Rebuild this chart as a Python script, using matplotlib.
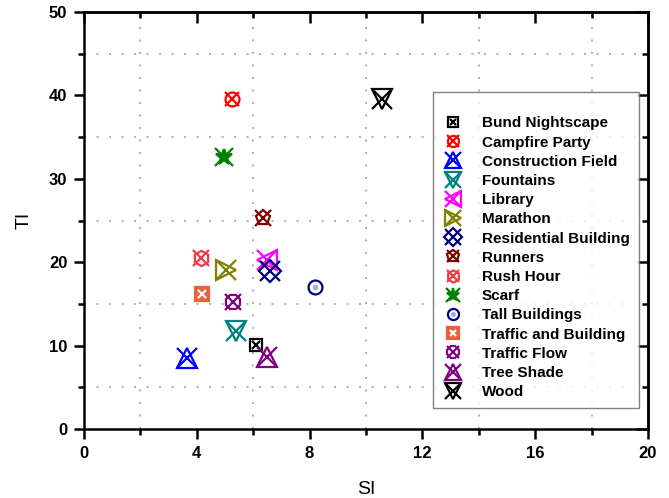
import matplotlib
matplotlib.use("Agg")
import matplotlib.pyplot as plt
from matplotlib.lines import Line2D
from matplotlib.ticker import MultipleLocator

names = ["Bund Nightscape", "Campfire Party", "Construction Field", "Fountains",
         "Library", "Marathon", "Residential Building", "Runners", "Rush Hour",
         "Scarf", "Tall Buildings", "Traffic and Building", "Traffic Flow",
         "Tree Shade", "Wood"]
si = [6.1, 5.25, 3.65, 5.4, 6.5, 5.05, 6.6, 6.35, 4.15, 4.95, 8.2, 4.2, 5.3, 6.5, 10.55]
ti = [10.1, 39.6, 8.5, 11.8, 20.3, 19.1, 18.9, 25.3, 20.5, 32.6, 17.0, 16.2, 15.2, 8.6, 39.6]
colors = ["#000000", "#FF0000", "#0000FF", "#008080", "#FF00FF", "#808000",
          "#000080", "#800000", "#F03C46", "#008000", "#000080", "#E8603C",
          "#800080", "#800080", "#000000"]

# marker layers per series: (marker, size, fill kind)
styles = [
    [("s", 9, "open"), ("x", 6, "open")],
    [("o", 10, "open"), ("x", 10, "open")],
    [("^", 15, "open"), ("x", 15, "open")],
    [("v", 15, "open"), ("x", 15, "open")],
    [("<", 15, "open"), ("x", 15, "open")],
    [(">", 15, "open"), ("x", 15, "open")],
    [("D", 11, "open"), ("x", 14, "open")],
    [("p", 11, "open"), ("x", 11, "open")],
    [("h", 11, "open"), ("x", 11, "open")],
    [("*", 12, "fill"), ("x", 13, "open")],
    [("o", 10, "tall"), (".", 5, "dot")],
    [("s", 10, "fill"), ("x", 6, "white")],
    [("8", 11, "open"), ("x", 11, "open")],
    [("^", 15, "open"), ("x", 15, "open")],
    [("v", 15, "open"), ("x", 15, "open")],
]

plt.rcParams['font.family'] = ['Liberation Sans', 'DejaVu Sans']
fig = plt.figure(figsize=(6.69, 4.98), dpi=100)
ax = fig.add_axes([84/669, 1-429/498, (648-84)/669, (429-12)/498])

handles = []
for n, x, y, c, st in zip(names, si, ti, colors, styles):
    layer = []
    for m, ms, f in st:
        if f == "fill":
            kw = dict(markerfacecolor=c, markeredgecolor=c)
        elif f == "tall":
            kw = dict(markerfacecolor="white", markeredgecolor=c)
        elif f == "dot":
            kw = dict(markerfacecolor="#9fb0d8", markeredgecolor="#9fb0d8")
        elif f == "white":
            kw = dict(markerfacecolor="white", markeredgecolor="white")
        else:
            kw = dict(markerfacecolor="none", markeredgecolor=c)
        ax.plot([x], [y], linestyle="none", marker=m, markersize=ms,
                markeredgewidth=1.6, **kw)
        layer.append(Line2D([], [], linestyle="none", marker=m,
                            markersize=ms * 0.8, markeredgewidth=1.6, **kw))
    handles.append(tuple(layer))

ax.set_xlim(0, 20)
ax.set_ylim(0, 50)
ax.xaxis.set_major_locator(MultipleLocator(4))
ax.xaxis.set_minor_locator(MultipleLocator(2))
ax.yaxis.set_major_locator(MultipleLocator(10))
ax.yaxis.set_minor_locator(MultipleLocator(5))

for xv in [2, 6, 10, 14, 18]:
    ax.axvline(xv, color="#b4b4b4", linestyle=(0, (1, 5)), linewidth=1.5, zorder=0)
for yv in [5, 15, 25, 35, 45]:
    ax.axhline(yv, color="#b4b4b4", linestyle=(0, (1, 5)), linewidth=1.5, zorder=0)

for s in ax.spines.values():
    s.set_linewidth(1.8)

ax.tick_params(which="both", direction="out", width=1.8, top=False, right=False,
               labelsize=12, pad=5)
ax.tick_params(which="major", length=7)
ax.tick_params(which="minor", length=4)
for lab in ax.get_xticklabels() + ax.get_yticklabels():
    lab.set_fontweight("bold")

ax2 = ax.secondary_xaxis("top")
ax2.xaxis.set_major_locator(MultipleLocator(4))
ax2.xaxis.set_minor_locator(MultipleLocator(2))
ax2.tick_params(which="both", direction="in", width=1.8, labeltop=False)
ax2.tick_params(which="major", length=8)
ax2.tick_params(which="minor", length=4)
ax2.spines["top"].set_linewidth(1.8)
ax3 = ax.secondary_yaxis("right")
ax3.yaxis.set_major_locator(MultipleLocator(10))
ax3.yaxis.set_minor_locator(MultipleLocator(5))
ax3.tick_params(which="both", direction="in", width=1.8, labelright=False)
ax3.tick_params(which="major", length=8)
ax3.tick_params(which="minor", length=4)
ax3.spines["right"].set_linewidth(1.8)

ax.set_xlabel("SI", fontsize=14, labelpad=14.5)
ax.set_ylabel("TI", fontsize=14, labelpad=12)

leg = ax.legend(handles, names, loc="upper left", bbox_to_anchor=(0.619, 0.808),
                frameon=True, fancybox=False, edgecolor="#606060",
                prop={"weight": "bold", "size": 11}, labelspacing=0.34,
                handlelength=1.4, handletextpad=1.2, borderpad=0.6,
                borderaxespad=0, title=" ", title_fontsize=7)
leg.get_frame().set_linewidth(1.0)

fig.savefig("out.png", dpi=100)
